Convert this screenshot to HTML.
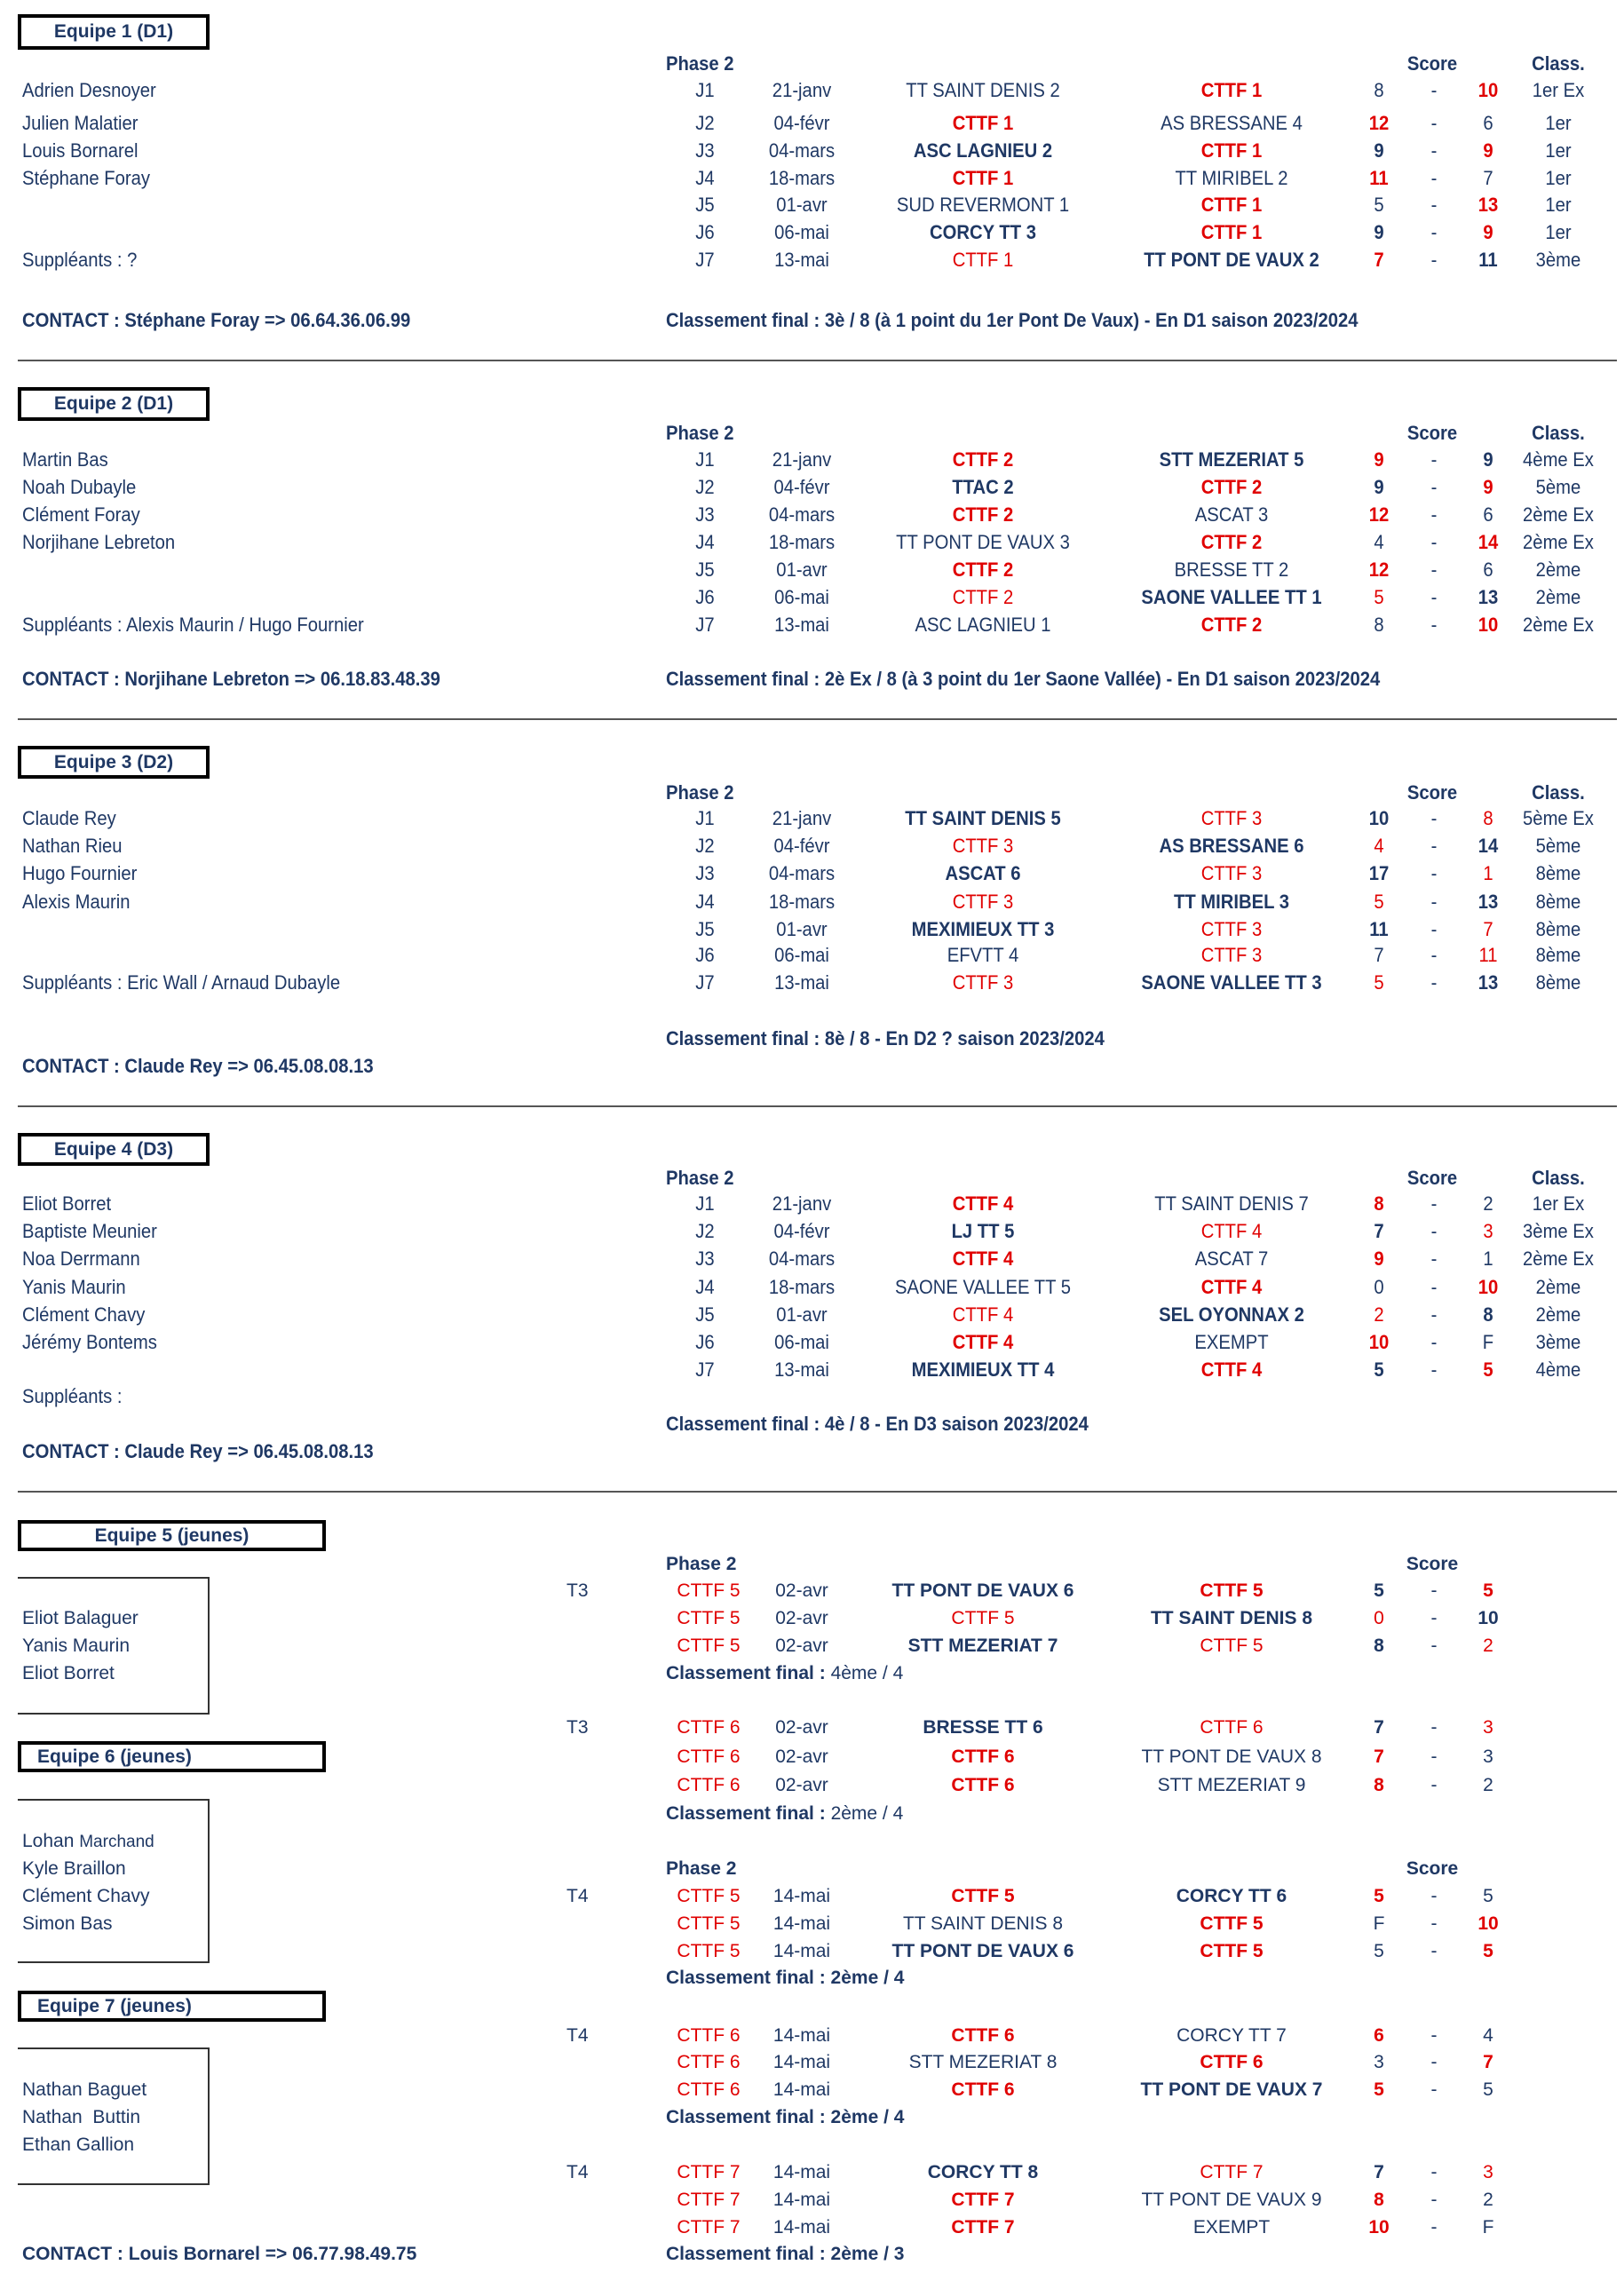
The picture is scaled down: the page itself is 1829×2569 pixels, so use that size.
<!DOCTYPE html>
<html><head><meta charset="utf-8"><style>
*{margin:0;padding:0}
body{width:1829px;height:2569px;background:#fff;position:relative;overflow:hidden;font-family:"Liberation Sans",sans-serif;color:#1f3864}
.w{position:absolute;height:0;left:0;width:1829px}
.w>div{position:absolute;top:-13px;height:26px;line-height:26px;font-size:21px;white-space:nowrap;text-align:center}
.top .w>div{font-size:22px;transform:scaleX(.92)}
.top .w>.L{transform-origin:left center}
.L{text-align:left!important}
.n{left:25px}
.j{left:744px;width:100px}.d{left:843px;width:120px}.h{left:957px;width:300px}.a{left:1237px;width:300px}
.s1{left:1513px;width:80px}.dd{left:1575px;width:80px}.s2{left:1636px;width:80px}.cl{left:1695px;width:120px}
.ph{left:750px}.sc{left:1553px;width:120px}
.t{left:638px}.k{left:738px;width:120px}
.r{color:#e00000}.b{font-weight:bold}
.box{position:absolute;border:4px solid #000;font-weight:bold;font-size:21px;box-sizing:border-box;color:#1f3864}
.nb{position:absolute;border:2px solid #333;border-left:none;box-sizing:border-box}
.rule{position:absolute;left:20px;width:1801px;height:2px;background:#555}
</style></head><body>
<div class="top">
<div class="box" style="left:20px;top:16px;width:216px;height:40px;line-height:32px;text-align:center">Equipe 1 (D1)</div>
<div class="w" style="top:72px"><div class="ph L b">Phase 2</div><div class="sc b">Score</div><div class="cl b">Class.</div></div>
<div class="w" style="top:102px"><div class="n L">Adrien Desnoyer</div><div class="j">J1</div><div class="d">21-janv</div><div class="h">TT SAINT DENIS 2</div><div class="a r b">CTTF 1</div><div class="s1">8</div><div class="dd">-</div><div class="s2 r b">10</div><div class="cl">1er Ex</div></div>
<div class="w" style="top:139px"><div class="n L">Julien Malatier</div><div class="j">J2</div><div class="d">04-févr</div><div class="h r b">CTTF 1</div><div class="a">AS BRESSANE 4</div><div class="s1 r b">12</div><div class="dd">-</div><div class="s2">6</div><div class="cl">1er</div></div>
<div class="w" style="top:170px"><div class="n L">Louis Bornarel</div><div class="j">J3</div><div class="d">04-mars</div><div class="h b">ASC LAGNIEU 2</div><div class="a r b">CTTF 1</div><div class="s1 b">9</div><div class="dd">-</div><div class="s2 r b">9</div><div class="cl">1er</div></div>
<div class="w" style="top:201px"><div class="n L">Stéphane Foray</div><div class="j">J4</div><div class="d">18-mars</div><div class="h r b">CTTF 1</div><div class="a">TT MIRIBEL 2</div><div class="s1 r b">11</div><div class="dd">-</div><div class="s2">7</div><div class="cl">1er</div></div>
<div class="w" style="top:231px"><div class="j">J5</div><div class="d">01-avr</div><div class="h">SUD REVERMONT 1</div><div class="a r b">CTTF 1</div><div class="s1">5</div><div class="dd">-</div><div class="s2 r b">13</div><div class="cl">1er</div></div>
<div class="w" style="top:262px"><div class="j">J6</div><div class="d">06-mai</div><div class="h b">CORCY TT 3</div><div class="a r b">CTTF 1</div><div class="s1 b">9</div><div class="dd">-</div><div class="s2 r b">9</div><div class="cl">1er</div></div>
<div class="w" style="top:293px"><div class="n L">Suppléants :  ?</div><div class="j">J7</div><div class="d">13-mai</div><div class="h r">CTTF 1</div><div class="a b">TT PONT DE VAUX 2</div><div class="s1 r b">7</div><div class="dd">-</div><div class="s2 b">11</div><div class="cl">3ème</div></div>
<div class="w" style="top:361px"><div class="n L b">CONTACT :  Stéphane Foray =&gt; 06.64.36.06.99</div><div class="ph L b">Classement final :  3è / 8 (à 1 point du 1er Pont De Vaux) - En D1 saison 2023/2024</div></div>
<div class="rule" style="top:405px"></div>

<div class="box" style="left:20px;top:436px;width:216px;height:38px;line-height:30px;text-align:center">Equipe 2 (D1)</div>
<div class="w" style="top:488px"><div class="ph L b">Phase 2</div><div class="sc b">Score</div><div class="cl b">Class.</div></div>
<div class="w" style="top:518px"><div class="n L">Martin Bas</div><div class="j">J1</div><div class="d">21-janv</div><div class="h r b">CTTF 2</div><div class="a b">STT MEZERIAT 5</div><div class="s1 r b">9</div><div class="dd">-</div><div class="s2 b">9</div><div class="cl">4ème Ex</div></div>
<div class="w" style="top:549px"><div class="n L">Noah Dubayle</div><div class="j">J2</div><div class="d">04-févr</div><div class="h b">TTAC 2</div><div class="a r b">CTTF 2</div><div class="s1 b">9</div><div class="dd">-</div><div class="s2 r b">9</div><div class="cl">5ème</div></div>
<div class="w" style="top:580px"><div class="n L">Clément Foray</div><div class="j">J3</div><div class="d">04-mars</div><div class="h r b">CTTF 2</div><div class="a">ASCAT 3</div><div class="s1 r b">12</div><div class="dd">-</div><div class="s2">6</div><div class="cl">2ème Ex</div></div>
<div class="w" style="top:611px"><div class="n L">Norjihane Lebreton</div><div class="j">J4</div><div class="d">18-mars</div><div class="h">TT PONT DE VAUX 3</div><div class="a r b">CTTF 2</div><div class="s1">4</div><div class="dd">-</div><div class="s2 r b">14</div><div class="cl">2ème Ex</div></div>
<div class="w" style="top:642px"><div class="j">J5</div><div class="d">01-avr</div><div class="h r b">CTTF 2</div><div class="a">BRESSE TT 2</div><div class="s1 r b">12</div><div class="dd">-</div><div class="s2">6</div><div class="cl">2ème</div></div>
<div class="w" style="top:673px"><div class="j">J6</div><div class="d">06-mai</div><div class="h r">CTTF 2</div><div class="a b">SAONE VALLEE TT 1</div><div class="s1 r">5</div><div class="dd">-</div><div class="s2 b">13</div><div class="cl">2ème</div></div>
<div class="w" style="top:704px"><div class="n L">Suppléants : Alexis Maurin / Hugo Fournier</div><div class="j">J7</div><div class="d">13-mai</div><div class="h">ASC LAGNIEU 1</div><div class="a r b">CTTF 2</div><div class="s1">8</div><div class="dd">-</div><div class="s2 r b">10</div><div class="cl">2ème Ex</div></div>
<div class="w" style="top:765px"><div class="n L b">CONTACT : Norjihane Lebreton =&gt; 06.18.83.48.39</div><div class="ph L b">Classement final :  2è Ex / 8 (à 3 point du 1er Saone Vallée) - En D1 saison 2023/2024</div></div>
<div class="rule" style="top:809px"></div>

<div class="box" style="left:20px;top:840px;width:216px;height:37px;line-height:29px;text-align:center">Equipe 3 (D2)</div>
<div class="w" style="top:893px"><div class="ph L b">Phase 2</div><div class="sc b">Score</div><div class="cl b">Class.</div></div>
<div class="w" style="top:922px"><div class="n L">Claude Rey</div><div class="j">J1</div><div class="d">21-janv</div><div class="h b">TT SAINT DENIS 5</div><div class="a r">CTTF 3</div><div class="s1 b">10</div><div class="dd">-</div><div class="s2 r">8</div><div class="cl">5ème Ex</div></div>
<div class="w" style="top:953px"><div class="n L">Nathan Rieu</div><div class="j">J2</div><div class="d">04-févr</div><div class="h r">CTTF 3</div><div class="a b">AS BRESSANE 6</div><div class="s1 r">4</div><div class="dd">-</div><div class="s2 b">14</div><div class="cl">5ème</div></div>
<div class="w" style="top:984px"><div class="n L">Hugo Fournier</div><div class="j">J3</div><div class="d">04-mars</div><div class="h b">ASCAT 6</div><div class="a r">CTTF 3</div><div class="s1 b">17</div><div class="dd">-</div><div class="s2 r">1</div><div class="cl">8ème</div></div>
<div class="w" style="top:1016px"><div class="n L">Alexis Maurin</div><div class="j">J4</div><div class="d">18-mars</div><div class="h r">CTTF 3</div><div class="a b">TT MIRIBEL 3</div><div class="s1 r">5</div><div class="dd">-</div><div class="s2 b">13</div><div class="cl">8ème</div></div>
<div class="w" style="top:1047px"><div class="j">J5</div><div class="d">01-avr</div><div class="h b">MEXIMIEUX TT 3</div><div class="a r">CTTF 3</div><div class="s1 b">11</div><div class="dd">-</div><div class="s2 r">7</div><div class="cl">8ème</div></div>
<div class="w" style="top:1076px"><div class="j">J6</div><div class="d">06-mai</div><div class="h">EFVTT 4</div><div class="a r">CTTF 3</div><div class="s1">7</div><div class="dd">-</div><div class="s2 r">11</div><div class="cl">8ème</div></div>
<div class="w" style="top:1107px"><div class="n L">Suppléants :  Eric Wall / Arnaud Dubayle</div><div class="j">J7</div><div class="d">13-mai</div><div class="h r">CTTF 3</div><div class="a b">SAONE VALLEE TT 3</div><div class="s1 r">5</div><div class="dd">-</div><div class="s2 b">13</div><div class="cl">8ème</div></div>
<div class="w" style="top:1170px"><div class="ph L b">Classement final :  8è / 8 - En D2 ? saison 2023/2024</div></div>
<div class="w" style="top:1201px"><div class="n L b">CONTACT : Claude Rey =&gt; 06.45.08.08.13</div></div>
<div class="rule" style="top:1245px"></div>

<div class="box" style="left:20px;top:1276px;width:216px;height:37px;line-height:29px;text-align:center">Equipe 4 (D3)</div>
<div class="w" style="top:1327px"><div class="ph L b">Phase 2</div><div class="sc b">Score</div><div class="cl b">Class.</div></div>
<div class="w" style="top:1356px"><div class="n L">Eliot Borret</div><div class="j">J1</div><div class="d">21-janv</div><div class="h r b">CTTF 4</div><div class="a">TT SAINT DENIS 7</div><div class="s1 r b">8</div><div class="dd">-</div><div class="s2">2</div><div class="cl">1er Ex</div></div>
<div class="w" style="top:1387px"><div class="n L">Baptiste Meunier</div><div class="j">J2</div><div class="d">04-févr</div><div class="h b">LJ TT 5</div><div class="a r">CTTF 4</div><div class="s1 b">7</div><div class="dd">-</div><div class="s2 r">3</div><div class="cl">3ème Ex</div></div>
<div class="w" style="top:1418px"><div class="n L">Noa Derrmann</div><div class="j">J3</div><div class="d">04-mars</div><div class="h r b">CTTF 4</div><div class="a">ASCAT 7</div><div class="s1 r b">9</div><div class="dd">-</div><div class="s2">1</div><div class="cl">2ème Ex</div></div>
<div class="w" style="top:1450px"><div class="n L">Yanis Maurin</div><div class="j">J4</div><div class="d">18-mars</div><div class="h">SAONE VALLEE TT 5</div><div class="a r b">CTTF 4</div><div class="s1">0</div><div class="dd">-</div><div class="s2 r b">10</div><div class="cl">2ème</div></div>
<div class="w" style="top:1481px"><div class="n L">Clément Chavy</div><div class="j">J5</div><div class="d">01-avr</div><div class="h r">CTTF 4</div><div class="a b">SEL OYONNAX 2</div><div class="s1 r">2</div><div class="dd">-</div><div class="s2 b">8</div><div class="cl">2ème</div></div>
<div class="w" style="top:1512px"><div class="n L">Jérémy Bontems</div><div class="j">J6</div><div class="d">06-mai</div><div class="h r b">CTTF 4</div><div class="a">EXEMPT</div><div class="s1 r b">10</div><div class="dd">-</div><div class="s2">F</div><div class="cl">3ème</div></div>
<div class="w" style="top:1543px"><div class="j">J7</div><div class="d">13-mai</div><div class="h b">MEXIMIEUX TT 4</div><div class="a r b">CTTF 4</div><div class="s1 b">5</div><div class="dd">-</div><div class="s2 r b">5</div><div class="cl">4ème</div></div>
<div class="w" style="top:1573px"><div class="n L">Suppléants :</div></div>
<div class="w" style="top:1604px"><div class="ph L b">Classement final :    4è / 8 - En D3 saison 2023/2024</div></div>
<div class="w" style="top:1635px"><div class="n L b">CONTACT : Claude Rey =&gt; 06.45.08.08.13</div></div>
<div class="rule" style="top:1679px"></div>
</div>

<div class="bot">
<div class="box" style="left:20px;top:1712px;width:347px;height:35px;line-height:27px;text-align:center">Equipe 5 (jeunes)</div>
<div class="nb" style="left:20px;top:1776px;width:216px;height:155px"></div>
<div class="w" style="top:1762px"><div class="ph L b">Phase 2</div><div class="sc b">Score</div></div>
<div class="w" style="top:1792px"><div class="t L">T3</div><div class="k r">CTTF 5</div><div class="d">02-avr</div><div class="h b">TT PONT DE VAUX 6</div><div class="a r b">CTTF 5</div><div class="s1 b">5</div><div class="dd">-</div><div class="s2 r b">5</div></div>
<div class="w" style="top:1823px"><div class="n L">Eliot Balaguer</div><div class="k r">CTTF 5</div><div class="d">02-avr</div><div class="h r">CTTF 5</div><div class="a b">TT SAINT DENIS 8</div><div class="s1 r">0</div><div class="dd">-</div><div class="s2 b">10</div></div>
<div class="w" style="top:1854px"><div class="n L">Yanis Maurin</div><div class="k r">CTTF 5</div><div class="d">02-avr</div><div class="h b">STT MEZERIAT 7</div><div class="a r">CTTF 5</div><div class="s1 b">8</div><div class="dd">-</div><div class="s2 r">2</div></div>
<div class="w" style="top:1885px"><div class="n L">Eliot Borret</div><div class="ph L"><b>Classement final :</b> 4ème / 4</div></div>

<div class="w" style="top:1946px"><div class="t L">T3</div><div class="k r">CTTF 6</div><div class="d">02-avr</div><div class="h b">BRESSE TT 6</div><div class="a r">CTTF 6</div><div class="s1 b">7</div><div class="dd">-</div><div class="s2 r">3</div></div>
<div class="box" style="left:20px;top:1961px;width:347px;height:35px;line-height:27px;padding-left:18px">Equipe 6 (jeunes)</div>
<div class="w" style="top:1979px"><div class="k r">CTTF 6</div><div class="d">02-avr</div><div class="h r b">CTTF 6</div><div class="a">TT PONT DE VAUX 8</div><div class="s1 r b">7</div><div class="dd">-</div><div class="s2">3</div></div>
<div class="w" style="top:2011px"><div class="k r">CTTF 6</div><div class="d">02-avr</div><div class="h r b">CTTF 6</div><div class="a">STT MEZERIAT 9</div><div class="s1 r b">8</div><div class="dd">-</div><div class="s2">2</div></div>
<div class="w" style="top:2043px"><div class="ph L"><b>Classement final :</b> 2ème / 4</div></div>
<div class="nb" style="left:20px;top:2026px;width:216px;height:185px"></div>
<div class="w" style="top:2074px"><div class="n L">Lohan <span style="font-size:19px">Marchand</span></div></div>
<div class="w" style="top:2105px"><div class="n L">Kyle Braillon</div><div class="ph L b">Phase 2</div><div class="sc b">Score</div></div>
<div class="w" style="top:2136px"><div class="n L">Clément Chavy</div><div class="t L">T4</div><div class="k r">CTTF 5</div><div class="d">14-mai</div><div class="h r b">CTTF 5</div><div class="a b">CORCY TT 6</div><div class="s1 r b">5</div><div class="dd">-</div><div class="s2">5</div></div>
<div class="w" style="top:2167px"><div class="n L">Simon Bas</div><div class="k r">CTTF 5</div><div class="d">14-mai</div><div class="h">TT SAINT DENIS 8</div><div class="a r b">CTTF 5</div><div class="s1">F</div><div class="dd">-</div><div class="s2 r b">10</div></div>
<div class="w" style="top:2198px"><div class="k r">CTTF 5</div><div class="d">14-mai</div><div class="h b">TT PONT DE VAUX 6</div><div class="a r b">CTTF 5</div><div class="s1">5</div><div class="dd">-</div><div class="s2 r b">5</div></div>
<div class="w" style="top:2228px"><div class="ph L b">Classement final : 2ème / 4</div></div>
<div class="box" style="left:20px;top:2242px;width:347px;height:35px;line-height:27px;padding-left:18px">Equipe 7 (jeunes)</div>
<div class="w" style="top:2293px"><div class="t L">T4</div><div class="k r">CTTF 6</div><div class="d">14-mai</div><div class="h r b">CTTF 6</div><div class="a">CORCY TT 7</div><div class="s1 r b">6</div><div class="dd">-</div><div class="s2">4</div></div>
<div class="nb" style="left:20px;top:2306px;width:216px;height:155px"></div>
<div class="w" style="top:2323px"><div class="k r">CTTF 6</div><div class="d">14-mai</div><div class="h">STT MEZERIAT 8</div><div class="a r b">CTTF 6</div><div class="s1">3</div><div class="dd">-</div><div class="s2 r b">7</div></div>
<div class="w" style="top:2354px"><div class="n L">Nathan Baguet</div><div class="k r">CTTF 6</div><div class="d">14-mai</div><div class="h r b">CTTF 6</div><div class="a b">TT PONT DE VAUX 7</div><div class="s1 r b">5</div><div class="dd">-</div><div class="s2">5</div></div>
<div class="w" style="top:2385px"><div class="n L">Nathan&nbsp; Buttin</div><div class="ph L b">Classement final : 2ème / 4</div></div>
<div class="w" style="top:2416px"><div class="n L">Ethan Gallion</div></div>
<div class="w" style="top:2447px"><div class="t L">T4</div><div class="k r">CTTF 7</div><div class="d">14-mai</div><div class="h b">CORCY TT 8</div><div class="a r">CTTF 7</div><div class="s1 b">7</div><div class="dd">-</div><div class="s2 r">3</div></div>
<div class="w" style="top:2478px"><div class="k r">CTTF 7</div><div class="d">14-mai</div><div class="h r b">CTTF 7</div><div class="a">TT PONT DE VAUX 9</div><div class="s1 r b">8</div><div class="dd">-</div><div class="s2">2</div></div>
<div class="w" style="top:2509px"><div class="k r">CTTF 7</div><div class="d">14-mai</div><div class="h r b">CTTF 7</div><div class="a">EXEMPT</div><div class="s1 r b">10</div><div class="dd">-</div><div class="s2">F</div></div>
<div class="w" style="top:2539px"><div class="n L b">CONTACT : Louis Bornarel =&gt; 06.77.98.49.75</div><div class="ph L b">Classement final : 2ème / 3</div></div>
</div>
</body></html>
